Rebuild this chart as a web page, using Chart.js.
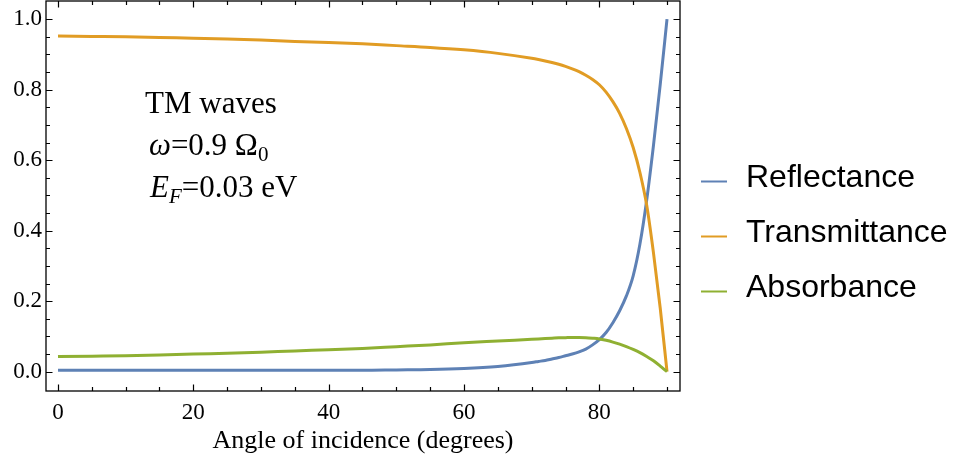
<!DOCTYPE html>
<html>
<head>
<meta charset="utf-8">
<script src="https://cdn.jsdelivr.net/npm/chart.js@4.4.0/dist/chart.umd.min.js"></script>
<style>
    html, body { margin: 0; padding: 0; background: #fff; }
    #chrtRTA { display: block; }
</style>
</head>
<body>
<canvas id="chrtRTA" width="961" height="473"></canvas>
<script>
// angle of incidence (degrees)
const angles = [0, 5, 10, 15, 20, 25, 30, 35, 40, 45, 50, 55, 60, 65,
    70, 71, 72, 73, 74, 75, 76, 77, 78, 79, 80, 81, 82, 83, 84, 85, 86, 87, 88, 89, 90];
const reflectance = [0.004, 0.004, 0.004, 0.004, 0.004, 0.004, 0.004, 0.004, 0.004, 0.004, 0.005, 0.006, 0.009, 0.015,
    0.026, 0.029, 0.032, 0.036, 0.040, 0.045, 0.050, 0.056, 0.064, 0.076, 0.091, 0.111, 0.139, 0.173, 0.215, 0.272, 0.362, 0.487, 0.642, 0.815, 1.0];
const transmittance = [0.952, 0.951, 0.950, 0.948, 0.946, 0.944, 0.941, 0.937, 0.934, 0.930, 0.925, 0.920, 0.913, 0.903,
    0.889, 0.8855, 0.8815, 0.877, 0.872, 0.866, 0.859, 0.851, 0.841, 0.829, 0.814, 0.793, 0.766, 0.733, 0.690, 0.636, 0.565, 0.472, 0.337, 0.180, 0.0];
const absorbance = [0.043, 0.044, 0.045, 0.047, 0.050, 0.052, 0.055, 0.059, 0.062, 0.066, 0.071, 0.076, 0.082, 0.087,
    0.092, 0.093, 0.094, 0.095, 0.096, 0.0965, 0.097, 0.097, 0.0965, 0.095, 0.093, 0.089, 0.084, 0.078, 0.071, 0.063, 0.054, 0.043, 0.031, 0.016, 0.0];

const seriesNames = ["Reflectance", "Transmittance", "Absorbance"];
const seriesColors = ["#5E81B5", "#E19C24", "#8FB032"];
const xTickLabels = [0, 20, 40, 60, 80];
const yTickLabels = ["0.0", "0.2", "0.4", "0.6", "0.8", "1.0"];
const xLabel = "Angle of incidence (degrees)";

((d) => {
    const CHRT = d.getElementById("chrtRTA");
    const SERIF = "'Liberation Serif', 'Times New Roman', serif";
    const SANS = "'Liberation Sans', Arial, sans-serif";

    function toPoints(values) {
        return angles.map((a, i) => ({ x: a, y: values[i] }));
    }

    // frame with inward ticks on all four sides, like Mathematica's Frame -> True
    const frameTicks = {
        id: "frameTicks",
        afterDatasetsDraw(chart) {
            const ctx = chart.ctx, ca = chart.chartArea;
            const xs = chart.scales.x, ys = chart.scales.y;
            ctx.save();
            ctx.strokeStyle = "#000";
            ctx.lineWidth = 1.3;
            ctx.strokeRect(ca.left, ca.top, ca.right - ca.left, ca.bottom - ca.top);
            ctx.lineWidth = 1.2;
            ctx.beginPath();
            for (let v = 0; v <= 90; v += 5) {
                let px = Math.round(xs.getPixelForValue(v)) + 0.5;
                let len = (v % 20 == 0) ? 6.5 : 4;
                ctx.moveTo(px, ca.bottom); ctx.lineTo(px, ca.bottom - len);
                ctx.moveTo(px, ca.top); ctx.lineTo(px, ca.top + len);
            }
            for (let k = 0; k <= 20; k++) {
                let py = Math.round(ys.getPixelForValue(k * 0.05)) + 0.5;
                let len = (k % 4 == 0) ? 6.5 : 4;
                ctx.moveTo(ca.left, py); ctx.lineTo(ca.left + len, py);
                ctx.moveTo(ca.right, py); ctx.lineTo(ca.right - len, py);
            }
            ctx.stroke();
            ctx.restore();
        }
    };

    function drawRuns(ctx, x, y, runs) {
        for (let r of runs) {
            let size = r.sub ? 21 : 31;
            ctx.font = (r.italic ? "italic " : "") + size + "px " + SERIF;
            ctx.fillText(r.t, x, y + (r.sub ? 6 : 0));
            x += ctx.measureText(r.t).width;
        }
    }

    // text label inside the plot and the legend to the right of the frame
    const annotations = {
        id: "annotations",
        afterDraw(chart) {
            const ctx = chart.ctx;
            ctx.save();
            ctx.fillStyle = "#000";
            ctx.textBaseline = "alphabetic";
            ctx.textAlign = "left";
            drawRuns(ctx, 145, 113, [{ t: "TM waves" }]);
            drawRuns(ctx, 149, 155, [{ t: "ω", italic: true }, { t: "=0.9 Ω" }, { t: "0", sub: true }]);
            drawRuns(ctx, 150, 197, [{ t: "E", italic: true }, { t: "F", italic: true, sub: true }, { t: "=0.03 eV" }]);

            ctx.font = "32px " + SANS;
            chart.data.datasets.forEach((ds, i) => {
                let ly = 181.5 + i * 55;
                ctx.strokeStyle = ds.borderColor;
                ctx.lineWidth = 2;
                ctx.beginPath();
                ctx.moveTo(701, ly); ctx.lineTo(727, ly);
                ctx.stroke();
                ctx.fillText(ds.label, 746, ly + 5);
            });
            ctx.restore();
        }
    };

    new Chart(CHRT, {
        type: "line",
        data: {
            datasets: seriesNames.map((name, i) => ({
                label: name,
                data: toPoints([reflectance, transmittance, absorbance][i]),
                borderColor: seriesColors[i],
                backgroundColor: seriesColors[i],
                borderWidth: 3,
                pointRadius: 0,
                cubicInterpolationMode: "monotone",
                order: 3 - i
            }))
        },
        options: {
            responsive: false,
            animation: false,
            devicePixelRatio: 1,
            layout: { padding: { left: 0, right: 281, top: 1, bottom: 0 } },
            plugins: {
                legend: { display: false },
                tooltip: { enabled: false }
            },
            scales: {
                x: {
                    type: "linear",
                    min: -1.77,
                    max: 91.92,
                    afterBuildTicks: (s) => { s.ticks = xTickLabels.map(v => ({ value: v })); },
                    afterFit: (s) => { s.height = 82; s.paddingLeft = 0; s.paddingRight = 0; },
                    grid: { display: false, drawTicks: false },
                    border: { display: false },
                    ticks: {
                        padding: 8,
                        color: "#000",
                        font: { family: SERIF, size: 23 },
                        callback: (v) => String(v)
                    },
                    title: {
                        display: true,
                        text: xLabel,
                        color: "#000",
                        font: { family: SERIF, size: 26 },
                        padding: { top: 0, bottom: 16 }
                    }
                },
                y: {
                    type: "linear",
                    min: -0.0548,
                    max: 1.0516,
                    afterBuildTicks: (s) => { s.ticks = yTickLabels.map(t => ({ value: parseFloat(t) })); },
                    afterFit: (s) => { s.width = 46; s.paddingTop = 0; s.paddingBottom = 0; },
                    grid: { display: false, drawTicks: false },
                    border: { display: false },
                    ticks: {
                        padding: 4,
                        color: "#000",
                        font: { family: SERIF, size: 23 },
                        callback: (v) => yTickLabels.find(t => parseFloat(t) == v)
                    }
                }
            }
        },
        plugins: [frameTicks, annotations]
    });
})(document);
</script>
</body>
</html>
